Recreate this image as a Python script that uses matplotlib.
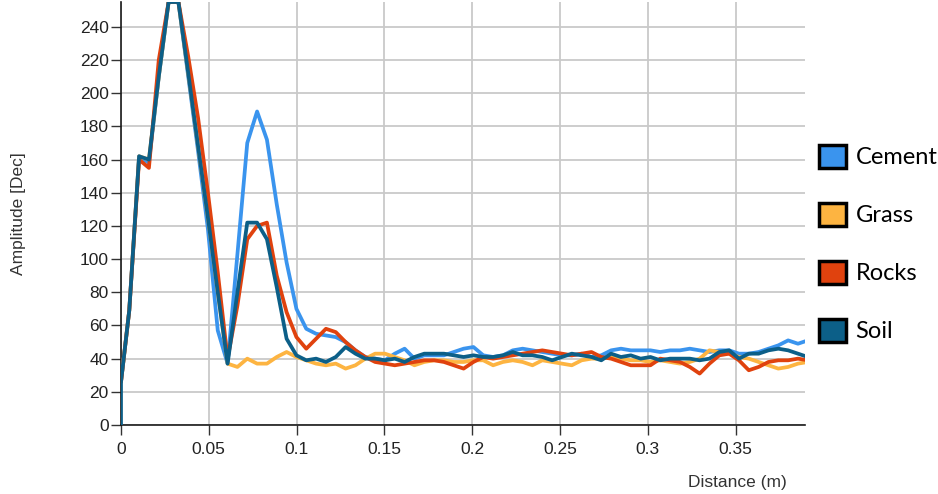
import numpy as np
import matplotlib
matplotlib.use("Agg")
import matplotlib.pyplot as plt
from matplotlib.patches import Patch
from matplotlib.ticker import FuncFormatter

# ---- data ----
series_names = ["Cement", "Grass", "Rocks", "Soil"]
series_colors = ["#3A94EE", "#FDB441", "#E0420E", "#0C5F88"]

# sampling of the distance axis (m)
sample_start = 0.0047
sample_step = 0.0056
n_samples = 70

start_values = {"Cement": [26, 26], "Grass": [26, 26], "Rocks": [26, 26], "Soil": [0, 26]}

cement = [69, 162, 158, 210, 255, 255, 210, 165, 118, 57, 37, 103, 170, 189, 172, 133, 98, 70, 58, 55,
          54, 53, 50, 45, 41, 40, 39, 43, 46, 40, 42, 42, 42, 44, 46, 47, 42, 41, 42, 45,
          46, 45, 44, 43, 42, 42, 43, 41, 42, 45, 46, 45, 45, 45, 44, 45, 45, 46, 45, 44,
          45, 45, 43, 43, 44, 46, 48, 51, 49, 51]
grass = [69, 162, 160, 210, 255, 255, 212, 168, 125, 80, 37, 35, 40, 37, 37, 41, 44, 41, 39, 37,
         36, 37, 34, 36, 40, 43, 43, 41, 39, 36, 38, 39, 39, 38, 38, 39, 39, 36, 38, 39,
         38, 36, 39, 38, 37, 36, 39, 40, 40, 41, 40, 39, 39, 38, 39, 38, 37, 38, 40, 45,
         44, 43, 41, 40, 38, 36, 34, 35, 37, 38]
rocks = [69, 160, 155, 220, 255, 255, 222, 185, 140, 92, 40, 72, 112, 120, 122, 90, 68, 53, 46, 52,
         58, 56, 50, 45, 41, 38, 37, 36, 37, 38, 39, 39, 38, 36, 34, 38, 41, 40, 41, 42,
         43, 44, 45, 44, 43, 42, 43, 44, 41, 40, 38, 36, 36, 36, 40, 39, 38, 35, 31, 37,
         42, 43, 39, 33, 35, 38, 39, 39, 40, 39]
soil = [69, 162, 160, 210, 255, 255, 212, 168, 125, 80, 37, 80, 122, 122, 112, 83, 52, 42, 39, 40,
        38, 41, 47, 43, 40, 40, 39, 40, 38, 41, 43, 43, 43, 42, 41, 42, 41, 41, 42, 44,
        42, 42, 41, 39, 41, 43, 42, 41, 39, 43, 41, 42, 40, 41, 39, 40, 40, 40, 39, 40,
        44, 45, 40, 43, 43, 45, 46, 45, 43, 41]

series_values = {"Cement": cement, "Grass": grass, "Rocks": rocks, "Soil": soil}

x_ticks = [0, 0.05, 0.1, 0.15, 0.2, 0.25, 0.3, 0.35]
y_ticks = list(range(0, 241, 20))
x_label = "Distance (m)"
y_label = "Amplitude [Dec]"

# ---- figure ----
font = ["Liberation Sans", "DejaVu Sans"]
plt.rcParams["font.family"] = font

fig = plt.figure(figsize=(9.38, 4.94), dpi=100)
ax = fig.add_axes([121 / 938, 1 - 425 / 494, (805 - 121) / 938, (425 - 2) / 494])

distance = np.r_[0.0, 0.0, sample_start + sample_step * np.arange(n_samples)]

for name, color in zip(series_names, series_colors):
    vals = np.array(start_values[name] + series_values[name], dtype=float)
    ax.plot(distance, vals, color=color, lw=2.7, solid_joinstyle="round",
            solid_capstyle="round", zorder=3, clip_on=True)

ax.set_xlim(0, 0.3895)
ax.set_ylim(0, 255)
ax.set_xticks(x_ticks)
ax.set_yticks(y_ticks)
ax.xaxis.set_major_formatter(FuncFormatter(lambda v, p: f"{v:g}"))
ax.grid(True, color="#C9C9C9", lw=1.3, zorder=0)
ax.set_axisbelow(True)
for s in ["top", "right"]:
    ax.spines[s].set_visible(False)
for s in ["left", "bottom"]:
    ax.spines[s].set_color("#1a1a1a")
    ax.spines[s].set_linewidth(1.2)
ax.tick_params(axis="both", length=7, width=1.0, color="#333333", labelsize=12.5,
               labelcolor="#222222", pad=2)
ax.tick_params(axis="x", pad=5)

fig.text(18 / 938, 1 - 214 / 494, y_label, rotation=90, ha="center", va="center",
         fontsize=12.5, color="#333333")
fig.text(787 / 938, 1 - 482 / 494, x_label, ha="right", va="center",
         fontsize=12.5, color="#333333")

handles = [Patch(facecolor=c, edgecolor="black", linewidth=2.5, label=n)
           for n, c in zip(series_names, series_colors)]
fig.legend(handles=handles, loc="center left", bbox_to_anchor=(819 / 938, 1 - 243.5 / 494),
           frameon=False, handlelength=1.15, handleheight=1.15,
           handletextpad=0.4, labelspacing=1.45, borderpad=0, borderaxespad=0,
           prop={"family": ["Lato", "DejaVu Sans"], "size": 17})

fig.savefig("out.png", dpi=100)
